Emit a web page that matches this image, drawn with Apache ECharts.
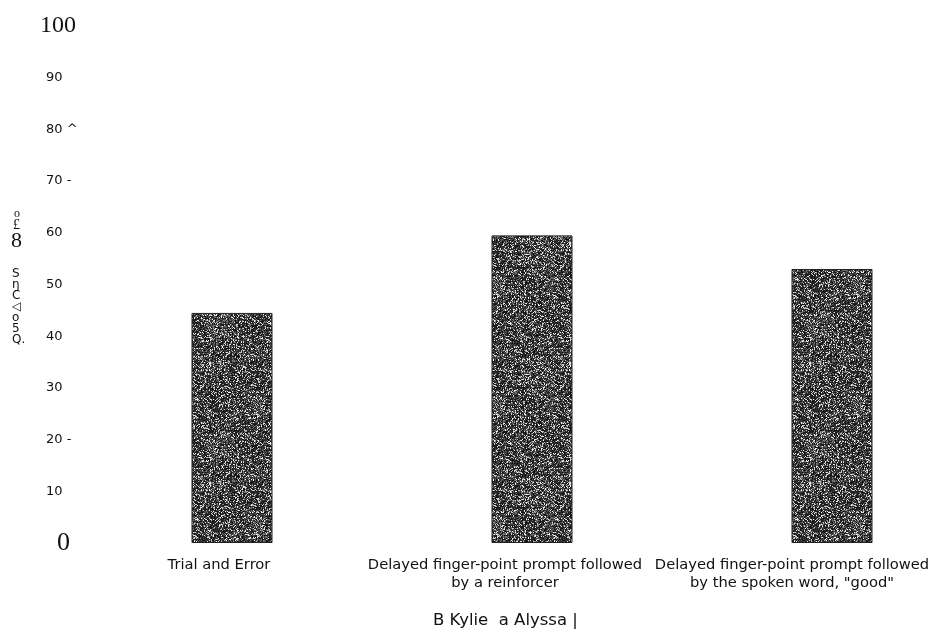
<!DOCTYPE html>
<html>
<head>
<meta charset="utf-8">
<script src="https://cdn.jsdelivr.net/npm/echarts@6/dist/echarts.min.js"></script>
<style>
html,body{margin:0;padding:0;background:#fff;}
#chart{width:935px;height:638px;}
</style>
</head>
<body>
<div id="chart"></div>
<script>
// ---- data ----
const categories = [
  "Trial and Error",
  "Delayed finger-point prompt followed\nby a reinforcer",
  "Delayed finger-point prompt followed\nby the spoken word, \"good\""
];
const kylieValues = [44.5, 59.5, 53];
const yTickValues = [0, 10, 20, 30, 40, 50, 60, 70, 80, 90, 100];
const yTickLabels = ["0", "10", "20 -", "30", "40", "50", "60", "70 -", "80 ^", "90", "100"];
const legendText = "B Kylie  a Alyssa |";
const yTitleTop = ["o", "£", "8"];
const yTitleBottom = "S\nŋ\nC\n◁\no\n5\nQ.";

// ---- speckled texture (deterministic) ----
function makeTexture() {
  const N = 120;
  const c = document.createElement('canvas');
  c.width = N; c.height = N;
  const ctx = c.getContext('2d');
  const img = ctx.createImageData(N, N);
  let s = 12345;
  function rnd() { s = (s * 1103515245 + 12345) & 0x7fffffff; return s / 0x7fffffff; }
  for (let y = 0; y < N; y++) {
    for (let x = 0; x < N; x++) {
      const i = y * N + x;
      const m = 0.5 + 0.25 * Math.sin(x / 9) * Math.cos(y / 13) + 0.15 * Math.sin((x + y) / 17);
      const r = rnd();
      let v;
      if (r < 0.35 + 0.35 * m) v = 10 + rnd() * 45;
      else if (r < 0.82) v = 60 + rnd() * 70;
      else v = 170 + rnd() * 85;
      img.data[i * 4] = v; img.data[i * 4 + 1] = v; img.data[i * 4 + 2] = v; img.data[i * 4 + 3] = 255;
    }
  }
  ctx.putImageData(img, 0, 0);
  return c;
}

const chart = echarts.init(document.getElementById('chart'), null, { renderer: 'canvas' });
const labelShift = ['c0', 'c1', 'c2'];
const xFont = 'DejaVu Sans';
const xSize = 14.7;

chart.setOption({
  animation: false,
  backgroundColor: '#ffffff',
  grid: { left: 82, width: 900, top: 26, bottom: 95, containLabel: false, outerBoundsMode: 'none' },
  xAxis: {
    type: 'category',
    data: categories,
    axisLine: { show: false },
    axisTick: { show: false },
    axisLabel: {
      interval: 0,
      margin: 13,
      lineHeight: 18,
      hideOverlap: false,
      fontFamily: xFont,
      fontSize: xSize,
      color: '#111',
      formatter: function (v, idx) {
        const key = labelShift[idx];
        return v.split('\n').map(l => '{' + key + '|' + l + '}').join('\n');
      },
      rich: {
        c0: { fontFamily: xFont, fontSize: xSize, color: '#111', lineHeight: 18, padding: [0, 26, 0, 0] },
        c1: { fontFamily: xFont, fontSize: xSize, color: '#111', lineHeight: 18, padding: [0, 54, 0, 0] },
        c2: { fontFamily: xFont, fontSize: xSize, color: '#111', lineHeight: 18, padding: [0, 80, 0, 0] }
      }
    }
  },
  yAxis: {
    type: 'value',
    min: 0, max: 100, interval: 10,
    axisLine: { show: false },
    axisTick: { show: false },
    splitLine: { show: false },
    axisLabel: {
      align: 'left',
      margin: 42,
      formatter: function (v) {
        const i = yTickValues.indexOf(v);
        const t = i >= 0 ? yTickLabels[i] : '';
        if (v === 0) return '{z|' + t + '}';
        if (v === 100) return '{h|' + t + '}';
        return '{n|' + t + '}';
      },
      rich: {
        n: { fontFamily: 'DejaVu Sans', fontSize: 13, color: '#111', padding: [0, 0, 0, 6] },
        z: { fontFamily: 'Liberation Serif', fontSize: 26, color: '#111', padding: [0, 0, 0, 17] },
        h: { fontFamily: 'Liberation Serif', fontSize: 24, color: '#111', padding: [0, 0, 0, 0] }
      }
    }
  },
  series: [{
    name: 'Kylie',
    type: 'bar',
    data: kylieValues,
    barWidth: 81,
    itemStyle: {
      color: { image: makeTexture(), repeat: 'repeat' },
      borderColor: '#222',
      borderWidth: 1
    }
  }],
  graphic: [
    { type: 'text', left: 433, top: 612, style: { text: legendText, font: '16.5px "DejaVu Sans"', fill: '#111' } },
    { type: 'text', left: 14, top: 208, style: { text: yTitleTop[0], font: '12px "Liberation Serif"', fill: '#111' } },
    { type: 'text', left: 13, top: 218, style: { text: yTitleTop[1], font: '14px "Liberation Serif"', fill: '#111' } },
    { type: 'text', left: 11, top: 230, style: { text: yTitleTop[2], font: '22px "Liberation Serif"', fill: '#111' } },
    { type: 'text', left: 12, top: 268, style: { text: yTitleBottom, font: '12px "DejaVu Sans"', fill: '#111', lineHeight: 11, align: 'left' } }
  ]
});
</script>
</body>
</html>
